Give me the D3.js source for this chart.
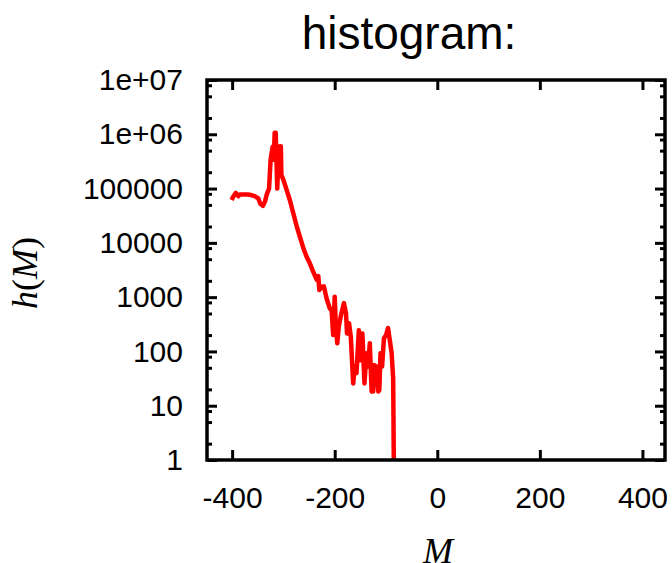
<!DOCTYPE html>
<html>
<head>
<meta charset="utf-8">
<script src="https://cdnjs.cloudflare.com/ajax/libs/d3/7.8.5/d3.min.js"></script>
<style>
  body { margin: 0; background: #fff; }
  svg text { font-family: "Liberation Sans", Arial, sans-serif; fill: #000; }
</style>
</head>
<body>
<svg id="chart" width="672" height="563"></svg>
<script>
// values (M, h(M))
var mVals = [-401, -398, -393, -388, -385, -381, -375, -369, -363, -356, -349, -345, -340, -336, -332, -328,
  -325, -321, -319, -317, -315, -312, -310, -307, -305, -304, -300, -287.5, -274, -262, -255, -248.5, -242,
  -235, -232, -230, -225.7, -221, -216, -209.5, -206, -203, -200, -198, -195, -192, -187, -182, -178, -176,
  -172, -168.6, -164, -161, -157.5, -153, -150, -146, -142, -138, -135, -131.6, -128, -125, -123, -118.5,
  -115, -113, -110.7, -107.6, -104, -100, -96, -92.6, -89, -86, -84]
var hVals = [61600, 70800, 83000, 72400, 77600, 77600, 78000, 77600, 76000, 72400, 66000, 52500, 48000, 57500, 81000, 100000,
  339000, 589000, 339000, 1070000, 1070000, 100000, 339000, 603000, 603000, 178000, 145000, 61600, 20000, 8500, 5600, 4200, 2950,
  2090, 2450, 1350, 1550, 1580, 955, 617, 575, 200, 1020, 331, 141, 288, 501, 776, 501, 214,
  331, 186, 25.7, 52.5, 39.8, 245, 69, 214, 25.7, 93, 52.5, 141, 18.2, 18.2, 56.2, 52.5,
  18.2, 19.5, 93, 52.5, 174, 200, 270, 162, 93, 31.6, 0.1]

var xTicks = [-400, -200, 0, 200, 400]
var yTicks = [1, 10, 100, 1000, 10000, 100000, 1e6, 1e7]
var yTickLabels = ['1', '10', '100', '1000', '10000', '100000', '1e+06', '1e+07']
var minorMult = [2, 5, 8]

var svg = d3.select('#chart')
var pL = 207, pR = 665, pT = 80, pB = 460

var x = d3.scaleLinear().domain([-449, 444]).range([pL, pR])
var y = d3.scaleLog().domain([1, 1e7]).range([pB, pT])

var minorTicks = []
for (let i = 0; i < yTicks.length - 1; i++) {
  for (let m of minorMult) minorTicks.push(yTicks[i] * m)
}

// clip for the data line
svg.append('clipPath').attr('id', 'plotclip')
  .append('rect').attr('x', pL).attr('y', pT)
  .attr('width', pR - pL).attr('height', pB - pT)

function styleAxis (g) {
  g.select('.domain').remove()
  g.selectAll('.tick line').attr('stroke', '#000').attr('stroke-width', 3)
  g.selectAll('.tick text').style('font-size', '30px').attr('fill', '#000')
}

// bottom / top
svg.append('g').attr('transform', 'translate(0,' + pB + ')')
  .call(d3.axisBottom(x).tickValues(xTicks).tickSize(-10).tickPadding(26.7).tickFormat(function (d) { return String(d) }))
  .call(styleAxis)
svg.append('g').attr('transform', 'translate(0,' + pT + ')')
  .call(d3.axisTop(x).tickValues(xTicks).tickSize(-10).tickFormat(''))
  .call(styleAxis)

// left / right major
svg.append('g').attr('transform', 'translate(' + pL + ',0)')
  .call(d3.axisLeft(y).tickValues(yTicks).tickSize(-10).tickPadding(24)
    .tickFormat(function (d, i) { return yTickLabels[i] }))
  .call(styleAxis)
svg.append('g').attr('transform', 'translate(' + pR + ',0)')
  .call(d3.axisRight(y).tickValues(yTicks).tickSize(-10).tickFormat(''))
  .call(styleAxis)

// minor ticks
svg.append('g').attr('transform', 'translate(' + pL + ',0)')
  .call(d3.axisLeft(y).tickValues(minorTicks).tickSize(-5).tickFormat(''))
  .call(styleAxis)
svg.append('g').attr('transform', 'translate(' + pR + ',0)')
  .call(d3.axisRight(y).tickValues(minorTicks).tickSize(-5).tickFormat(''))
  .call(styleAxis)

// data line
var pts = mVals.map(function (m, i) { return [m, hVals[i]] })
var line = d3.line().x(function (d) { return x(d[0]) }).y(function (d) { return y(d[1]) })
svg.append('path').datum(pts)
  .attr('clip-path', 'url(#plotclip)')
  .attr('d', line)
  .attr('fill', 'none')
  .attr('stroke', '#ff0000')
  .attr('stroke-width', 4.5)
  .attr('stroke-linejoin', 'round')

// frame
svg.append('rect').attr('x', pL).attr('y', pT)
  .attr('width', pR - pL).attr('height', pB - pT)
  .attr('fill', 'none').attr('stroke', '#000').attr('stroke-width', 3.5)

// title
svg.append('text').attr('x', 409).attr('y', 49)
  .attr('text-anchor', 'middle').style('font-size', '46px')
  .text('histogram:')

// axis labels
svg.append('text').attr('x', 438).attr('y', 563)
  .attr('text-anchor', 'middle')
  .style('font-family', '"Liberation Serif", "Times New Roman", serif')
  .style('font-style', 'italic').style('font-size', '36px')
  .text('M')

var yl = svg.append('text')
  .attr('transform', 'translate(37,273) rotate(-90)')
  .attr('text-anchor', 'middle')
  .style('font-family', '"Liberation Serif", "Times New Roman", serif')
  .style('font-size', '36px')
yl.append('tspan').style('font-style', 'italic').text('h')
yl.append('tspan').text('(')
yl.append('tspan').style('font-style', 'italic').text('M')
yl.append('tspan').text(')')
</script>
</body>
</html>
